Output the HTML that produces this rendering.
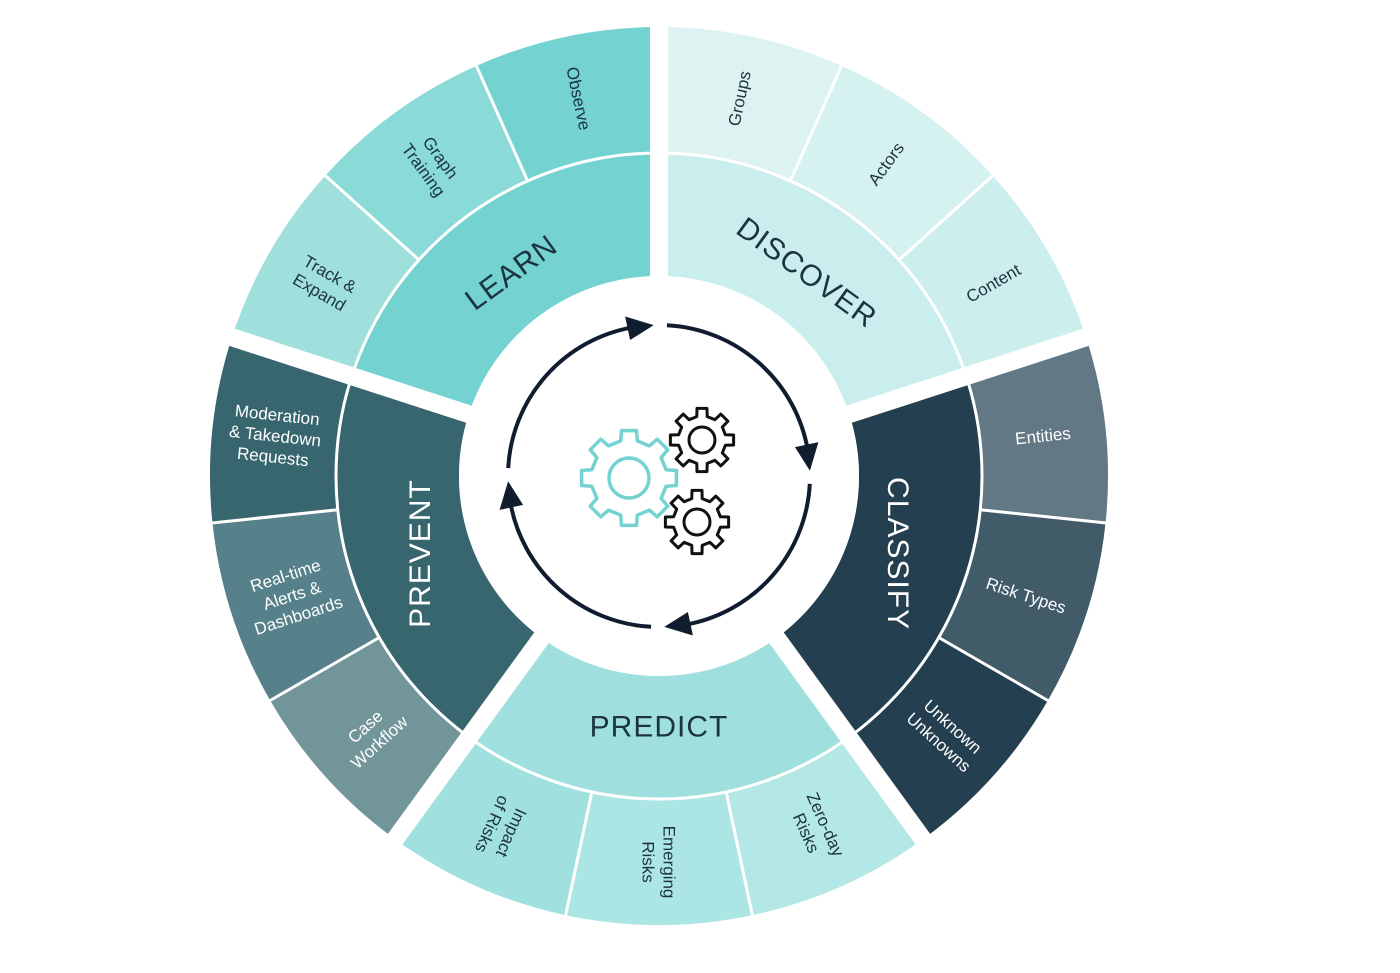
<!DOCTYPE html>
<html><head><meta charset="utf-8"><style>
html,body{margin:0;padding:0;background:#fff;width:1400px;height:973px;overflow:hidden}
svg text{font-family:"Liberation Sans",sans-serif}
</style></head><body>
<svg id="s" width="1400" height="973" viewBox="0 0 1400 973" xmlns="http://www.w3.org/2000/svg"></svg>
<script>
const CX=659,CY=476,R0=200,R1=323,R2=449;
const s=document.getElementById('s');let h='';
function P(r,a){const t=a*Math.PI/180;return [CX+r*Math.sin(t),CY-r*Math.cos(t)];}
function sec(r1,r2,a1,a2,fill){const p1=P(r2,a1),p2=P(r2,a2),p3=P(r1,a2),p4=P(r1,a1);
return `<path d="M${p1} A${r2} ${r2} 0 0 1 ${p2} L${p3} A${r1} ${r1} 0 0 0 ${p4} Z" fill="${fill}"/>`;}
const S=[
 {a:0,name:'DISCOVER',c:'#c9eeed',tc:'#1d3340',o:['#ddf3f2','#d5f1f0','#ccefee'],oc:'#1d3340',labels:[['Groups'],['Actors'],['Content']]},
 {a:72,name:'CLASSIFY',c:'#243f4f',tc:'#fff',o:['#627985','#415b68','#243f4f'],oc:'#fff',labels:[['Entities'],['Risk Types'],['Unknown','Unknowns']]},
 {a:144,name:'PREDICT',c:'#9fe0df',tc:'#1d3340',o:['#b4e8e6','#ace6e4','#a0e1df'],oc:'#1d3340',labels:[['Zero-day','Risks'],['Emerging','Risks'],['Impact','of Risks']]},
 {a:216,name:'PREVENT',c:'#37666e',tc:'#fff',o:['#729599','#57818a','#37666e'],oc:'#fff',labels:[['Case','Workflow'],['Real-time','Alerts &','Dashboards'],['Moderation','& Takedown','Requests']]},
 {a:288,name:'LEARN',c:'#74d3d1',tc:'#1d3340',o:['#9fe0dd','#8adbd8','#74d3d1'],oc:'#1d3340',labels:[['Track &','Expand'],['Graph','Training'],['Observe']]}
];
const inRot={DISCOVER:36,CLASSIFY:90,PREDICT:0,PREVENT:-90,LEARN:-36};
S.forEach(q=>{
 h+=sec(R0,R1,q.a,q.a+72,q.c);
 for(let i=0;i<3;i++)h+=sec(R1,R2,q.a+24*i,q.a+24*i+24,q.o[i]);
});
S.forEach(q=>{
 for(let i=1;i<3;i++){const a=P(R1,q.a+24*i),b=P(R2+2,q.a+24*i);h+=`<line x1="${a[0]}" y1="${a[1]}" x2="${b[0]}" y2="${b[1]}" stroke="#fff" stroke-width="3"/>`;}
});
h+=`<circle cx="${CX}" cy="${CY}" r="${R1}" fill="none" stroke="#fff" stroke-width="3"/>`;
S.forEach(q=>{const a=P(R0-20,q.a),b=P(R2+20,q.a);h+=`<line x1="${a[0]}" y1="${a[1]}" x2="${b[0]}" y2="${b[1]}" stroke="#fff" stroke-width="18"/>`;});
h+=`<circle cx="${CX}" cy="${CY}" r="${R0}" fill="#fff"/>`;
S.forEach(q=>{
 const m=q.a+36;let rot=inRot[q.name];const p=P(251,m);
 h+=`<text transform="translate(${p[0]} ${p[1]}) rotate(${rot})" text-anchor="middle" dominant-baseline="central" font-size="30" fill="${q.tc}" letter-spacing="1">${q.name}</text>`;
 for(let i=0;i<3;i++){
  const t=q.a+24*i+12;let r=t-90; if(r>90)r-=180; if(r<-90)r+=180;
  if(t>=180&&t<=210)r=t-90;
  const pp=P(386,t);const L=q.labels[i];const lh=21;
  let tx=`<text transform="translate(${pp[0]} ${pp[1]}) rotate(${r})" text-anchor="middle" font-size="17" fill="${q.oc}">`;
  L.forEach((l,k)=>{tx+=`<tspan x="0" y="${(k-(L.length-1)/2)*lh+6}">${l.replace('&','&amp;')}</tspan>`;});
  h+=tx+'</text>';
 }
});
const AR=151;
[[3,84],[93,174],[183,264],[273,354]].forEach(([a1,a2])=>{
 const p1=P(AR,a1),p2=P(AR,a2-4);
 h+=`<path d="M${p1} A${AR} ${AR} 0 0 1 ${p2}" fill="none" stroke="#0f1d2e" stroke-width="4"/>`;
 const tip=P(AR,a2+4),b=a2-6,l=P(AR-12,b),rr=P(AR+12,b);
 h+=`<polygon points="${tip} ${l} ${rr}" fill="#0f1d2e"/>`;
});
function gear(cx,cy,ro,rb,n,hole,col,sw){
 let d='';const st=360/n;
 for(let i=0;i<n;i++){const a=i*st;
  const pts=[[rb,a-st*0.28],[ro,a-st*0.2],[ro,a+st*0.2],[rb,a+st*0.28]];
  pts.forEach((p,k)=>{const t=p[1]*Math.PI/180;d+=(i==0&&k==0?'M':'L')+(cx+p[0]*Math.sin(t)).toFixed(1)+' '+(cy-p[0]*Math.cos(t)).toFixed(1)+' ';});
 }
 return `<path d="${d}Z" fill="#fff" stroke="${col}" stroke-width="${sw}" stroke-linejoin="round"/><circle cx="${cx}" cy="${cy}" r="${hole}" fill="none" stroke="${col}" stroke-width="${sw}"/>`;
}
h+=gear(629,478,48,38,8,20,'#74d3d1',3.5);
h+=gear(702,440,32,24,8,13,'#111',3);
h+=gear(697,522,32,24,8,13,'#111',3);
s.innerHTML=h;
</script>
</body></html>
